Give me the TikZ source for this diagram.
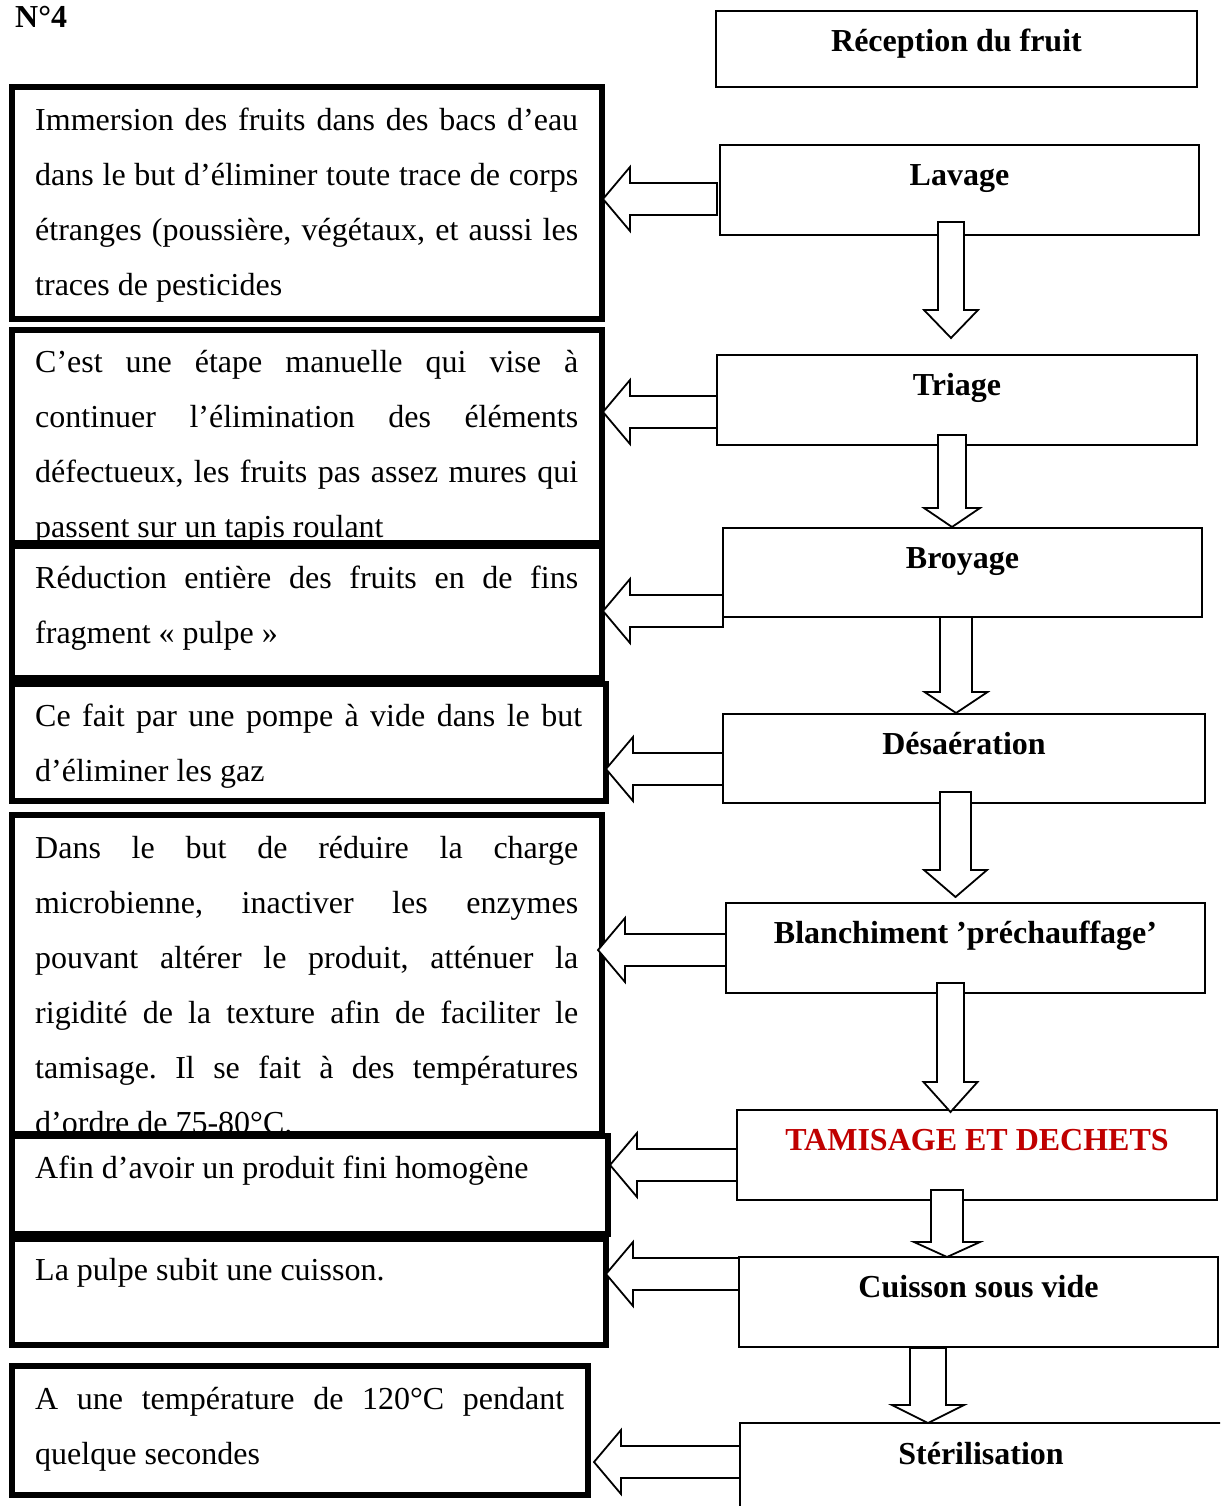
\documentclass[tikz,border=0pt]{standalone}
\usepackage{fontspec}
\setmainfont{Liberation Serif}[Ligatures={TeX,CommonOff}]
\usetikzlibrary{calc}
\definecolor{tamred}{HTML}{C00000}
\frenchspacing
\newcommand{\jl}[1]{\makebox[\linewidth][s]{#1}}
% left block arrow: tip x, centre y, back x
\newcommand{\leftblock}[3]{%
  \draw[blk] (#1,#2) -- (#1+27,#2-32) -- (#1+27,#2-16) -- (#3,#2-16)
    -- (#3,#2+16) -- (#1+27,#2+16) -- (#1+27,#2+32) -- cycle;}
% down block arrow: centre x, shaft half width, shaft top, head y, head half width, tip y
\newcommand{\downblock}[6]{%
  \draw[blk] (#1-#2,#3) -- (#1+#2,#3) -- (#1+#2,#4) -- (#1+#5,#4) -- (#1,#6)
    -- (#1-#5,#4) -- (#1-#2,#4) -- cycle;}
\tikzset{
  rbox/.style={draw, line width=1.8pt, fill=white, inner sep=0pt, outer sep=0pt},
  lbox/.style={draw, line width=5.5pt, fill=white, inner sep=0pt, outer sep=0pt},
  blabel/.style={anchor=base, inner sep=0pt, font=\fontsize{32}{38}\selectfont\bfseries},
  ltext/.style={anchor=base west, inner sep=0pt, font=\fontsize{32}{55}\selectfont\frenchspacing},
  blk/.style={draw, line width=1.8pt, fill=white, line join=miter},
}
\begin{document}
\begin{tikzpicture}[x=1pt,y=-1pt]
\useasboundingbox (0,0) rectangle (1220,1506);
\clip (0,0) rectangle (1220,1506);
\fill[white] (0,0) rectangle (1220,1506);

\node[anchor=base west, inner sep=0pt, font=\fontsize{32}{38}\selectfont\bfseries] (num) at (15,28) {N°4};

% ---------- left description boxes ----------
\node[lbox, minimum width=590pt, minimum height=232pt] (L1) at (307,203) {};
\node[ltext] (T1) at (35,131) {\parbox[t]{543pt}{%
\jl{Immersion des fruits dans des bacs d’eau}\\
\jl{dans le but d’éliminer toute trace de corps}\\
\jl{étranges (poussière, végétaux, et aussi les}\\
traces de pesticides}};

\node[lbox, minimum width=590pt, minimum height=213pt] (L2) at (307,436.5) {};
\node[ltext] (T2) at (35,372) {\parbox[t]{543pt}{%
\jl{C’est une étape manuelle qui vise à}\\
\jl{continuer l’élimination des éléments}\\
\jl{défectueux, les fruits pas assez mures qui}\\
passent sur un tapis roulant}};

\node[lbox, minimum width=590pt, minimum height=132pt] (L3) at (307,612) {};
\node[ltext] (T3) at (35,588) {\parbox[t]{543pt}{%
\jl{Réduction entière des fruits en de fins}\\
fragment « pulpe »}};

\node[lbox, minimum width=594pt, minimum height=117pt] (L4) at (309,742.5) {};
\node[ltext] (T4) at (35,726) {\parbox[t]{547pt}{%
\jl{Ce fait par une pompe à vide dans le but}\\
d’éliminer les gaz}};

\node[lbox, minimum width=590pt, minimum height=319pt] (L5) at (307,974.5) {};
\node[ltext] (T5) at (35,858) {\parbox[t]{543pt}{%
\jl{Dans le but de réduire la charge}\\
\jl{microbienne, inactiver les enzymes}\\
\jl{pouvant altérer le produit, atténuer la}\\
\jl{rigidité de la texture afin de faciliter le}\\
\jl{tamisage. Il se fait à des températures}\\
d’ordre de 75-80°C.}};

\node[lbox, minimum width=596pt, minimum height=98pt] (L6) at (310,1185) {};
\node[ltext] (T6) at (35,1178) {Afin d’avoir un produit fini homogène};

\node[lbox, minimum width=594pt, minimum height=106pt] (L7) at (309,1292) {};
\node[ltext] (T7) at (35,1280) {La pulpe subit une cuisson.};

\node[lbox, minimum width=576pt, minimum height=129pt] (L8) at (300,1430.5) {};
\node[ltext] (T8) at (35,1409) {\parbox[t]{529pt}{%
\jl{A une température de 120°C pendant}\\
quelque secondes}};

% ---------- right step boxes ----------
\node[rbox, minimum width=481pt, minimum height=76pt] (R1) at (956.5,49) {};
\node[blabel] (S1) at ($(R1.north)+(0,40.5)$) {Réception du fruit};
\node[rbox, minimum width=479pt, minimum height=90pt] (R2) at (959.5,190) {};
\node[blabel] (S2) at ($(R2.north)+(0,40.5)$) {Lavage};
\node[rbox, minimum width=480pt, minimum height=90pt] (R3) at (957,400) {};
\node[blabel] (S3) at ($(R3.north)+(0,40.5)$) {Triage};
\node[rbox, minimum width=479pt, minimum height=89pt] (R4) at (962.5,572.5) {};
\node[blabel] (S4) at ($(R4.north)+(0,40.5)$) {Broyage};
\node[rbox, minimum width=482pt, minimum height=89pt] (R5) at (964,758.5) {};
\node[blabel] (S5) at ($(R5.north)+(0,40.5)$) {Désaération};
\node[rbox, minimum width=479pt, minimum height=90pt] (R6) at (965.5,948) {};
\node[blabel] (S6) at ($(R6.north)+(0,40.5)$) {Blanchiment ’préchauffage’};
\node[rbox, minimum width=480pt, minimum height=90pt] (R7) at (977,1155) {};
\node[blabel, text=tamred] (S7) at ($(R7.north)+(0,40.5)$) {TAMISAGE ET DECHETS};
\node[rbox, minimum width=479pt, minimum height=90pt] (R8) at (978.5,1302) {};
\node[blabel] (S8) at ($(R8.north)+(0,40.5)$) {Cuisson sous vide};
\node[rbox, minimum width=500pt, minimum height=100pt] (R9) at (990,1473) {};
\node[blabel] (S9) at (981,1464) {Stérilisation};

% ---------- left block arrows (step -> description) ----------
\leftblock{603}{199}{717}
\leftblock{603}{412}{717}
\leftblock{603}{611}{723}
\leftblock{606}{769}{723}
\leftblock{598}{950}{726}
\leftblock{610}{1165}{737}
\leftblock{606}{1274}{739}
\leftblock{594}{1462}{740}

% ---------- down block arrows (step -> step) ----------
\downblock{951}{13}{222}{310}{27}{338}
\downblock{952}{14}{435}{508}{28}{527}
\downblock{956}{16}{617}{692}{31.5}{713}
\downblock{955.5}{15.5}{792}{870}{31.5}{897}
\downblock{950.5}{13.5}{983}{1082}{27}{1112}
\downblock{947}{16}{1190}{1242}{33}{1257}
\downblock{928}{18}{1348}{1405}{36}{1423}
\end{tikzpicture}
\end{document}
